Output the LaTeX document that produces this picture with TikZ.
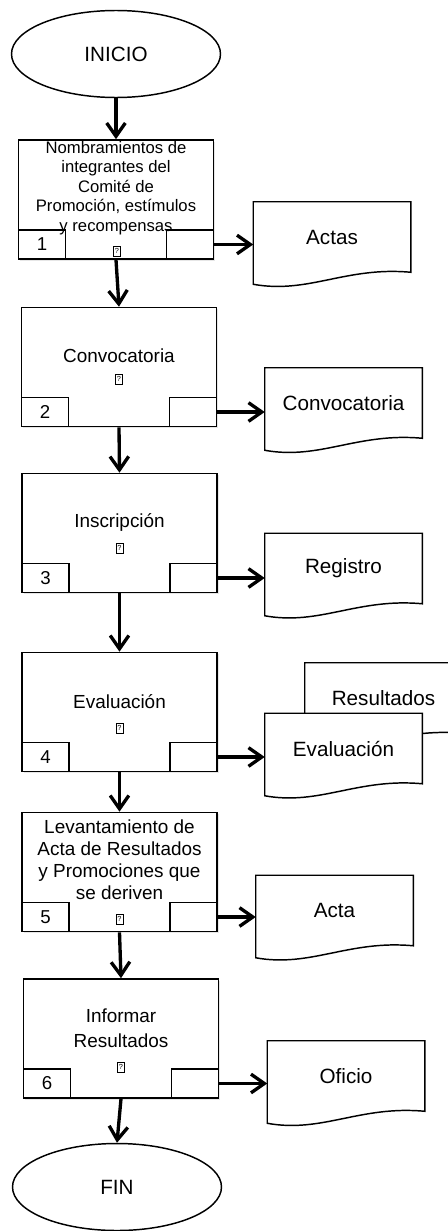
\documentclass[tikz,border=0pt]{standalone}
\usepackage{fontspec}
\setmainfont{Liberation Sans}
\usetikzlibrary{arrows.meta, shapes.geometric, calc, shadows}

% document symbol with wavy bottom, drawn round a named node
\newcommand{\docoutline}[1]{%
  \filldraw[docline] (#1.south east) -- (#1.north east) -- (#1.north west)
    -- ($(#1.south west)+(0,12)$)
    .. controls ($(#1.south west)+(55,22)$) and ($(#1.south east)+(-65,-6)$) .. (#1.south east)
    -- cycle;
}

\begin{document}
\begin{tikzpicture}[x=0.75pt, y=-0.75pt,
  termnode/.style={ellipse, draw, line width=1.1pt, inner sep=0pt,
    minimum width=156.75pt, minimum height=65.25pt, font=\fontsize{15.5}{18}\selectfont},
  actbox/.style={rectangle, draw, line width=1.2pt, fill=white, inner sep=0pt,
    minimum width=146.25pt, minimum height=89.25pt,
    drop shadow={opacity=0.2, shadow xshift=1.2pt, shadow yshift=-1.2pt}},
  numbox/.style={rectangle, draw, line width=1.2pt, fill=white, inner sep=0pt,
    minimum width=35.25pt, minimum height=21.75pt, font=\fontsize{14}{16}\selectfont},
  boxtext/.style={align=center, inner sep=0pt, font=\fontsize{14.2}{16.5}\selectfont},
  glyphbox/.style={draw, line width=0.4pt, inner sep=0.4pt, minimum width=5pt,
    minimum height=7.5pt, font=\fontsize{5.5}{6}\selectfont},
  docnode/.style={rectangle, inner sep=0pt, minimum width=117.75pt,
    minimum height=52.5pt, font=\fontsize{15.5}{18}\selectfont},
  docline/.style={line width=1.1pt, fill=white},
  flowarrow/.style={line width=2.5pt, -{Straight Barb[length=10pt, width=14pt]}}]

  \clip (0,0) rectangle (448,1231);

  % --- Start ---
  \node[termnode] (ini) at (116,54) {INICIO};

  % --- Step 1 ---
  \node[actbox] (a1) at (116,199.5) {};
  \node[numbox, anchor=south west] (n1) at (a1.south west) {1};
  \node[numbox, anchor=south east] (r1) at (a1.south east) {};
  \node[boxtext, font=\fontsize{12.5}{14.6}\selectfont] (t1) at (116,188)
    {Nombramientos de\\integrantes del\\Comité de\\Promoción, estímulos\\y recompensas};
  \node[glyphbox] (g1) at (117,251) {?};

  % --- Step 2 ---
  \node[actbox] (a2) at (119,367) {};
  \node[numbox, anchor=south west] (n2) at (a2.south west) {2};
  \node[numbox, anchor=south east] (r2) at (a2.south east) {};
  \node[boxtext] (t2) at (119,356) {Convocatoria};
  \node[glyphbox] (g2) at (119,379) {?};

  % --- Step 3 ---
  \node[actbox] (a3) at (119.5,533) {};
  \node[numbox, anchor=south west] (n3) at (a3.south west) {3};
  \node[numbox, anchor=south east] (r3) at (a3.south east) {};
  \node[boxtext] (t3) at (119.5,522) {Inscripción};
  \node[glyphbox] (g3) at (119.5,548) {?};

  % --- Step 4 ---
  \node[actbox] (a4) at (119.5,712) {};
  \node[numbox, anchor=south west] (n4) at (a4.south west) {4};
  \node[numbox, anchor=south east] (r4) at (a4.south east) {};
  \node[boxtext] (t4) at (119.5,702) {Evaluación};
  \node[glyphbox] (g4) at (119.5,728) {?};

  % --- Step 5 ---
  \node[actbox] (a5) at (119.5,872) {};
  \node[numbox, anchor=south west] (n5) at (a5.south west) {5};
  \node[numbox, anchor=south east] (r5) at (a5.south east) {};
  \node[boxtext, font=\fontsize{14.2}{16.5}\selectfont] (t5) at (119.5,860)
    {Levantamiento de\\Acta de Resultados\\y Promociones que\\se deriven};
  \node[glyphbox] (g5) at (119.5,919) {?};

  % --- Step 6 ---
  \node[actbox] (a6) at (121,1038.5) {};
  \node[numbox, anchor=south west] (n6) at (a6.south west) {6};
  \node[numbox, anchor=south east] (r6) at (a6.south east) {};
  \node[boxtext, font=\fontsize{14.2}{18.75}\selectfont] (t6) at (121,1028.5)
    {Informar\\Resultados};
  \node[glyphbox] (g6) at (121,1067) {?};

  % --- End ---
  \node[termnode] (fin) at (117,1187) {FIN};

  % --- Documents ---
  \node[docnode] (d1) at (332,237) {};
  \docoutline{d1}
  \node[docnode] at (d1) {Actas};

  \node[docnode] (d2) at (343.5,403) {};
  \docoutline{d2}
  \node[docnode] at (d2) {Convocatoria};

  \node[docnode] (d3) at (343.5,568.5) {};
  \docoutline{d3}
  \node[docnode] at (d3) {Registro};

  \node[docnode] (d4b) at (383.5,698) {};
  \docoutline{d4b}
  \node[docnode] at (d4b) {Resultados};
  \node[docnode] (d4) at (343.5,748.5) {};
  \docoutline{d4}
  \node[docnode] at (d4) {Evaluación};

  \node[docnode] (d5) at (334.5,910.5) {};
  \docoutline{d5}
  \node[docnode] at (d5) {Acta};

  \node[docnode] (d6) at (346,1076) {};
  \docoutline{d6}
  \node[docnode] at (d6) {Oficio};

  % --- Flow ---
  \draw[flowarrow] (ini.south) -- (a1.north);
  \draw[flowarrow] (a1.south) -- (a2.north);
  \draw[flowarrow] (a2.south) -- (a3.north);
  \draw[flowarrow] (a3.south) -- (a4.north);
  \draw[flowarrow] (a4.south) -- (a5.north);
  \draw[flowarrow] (a5.south) -- (a6.north);
  \draw[flowarrow] (a6.south) -- (fin.north);

  % --- Outputs ---
  \draw[flowarrow] (r1.east) -- (r1.east -| d1.west);
  \draw[flowarrow] (r2.east) -- (r2.east -| d2.west);
  \draw[flowarrow] (r3.east) -- (r3.east -| d3.west);
  \draw[flowarrow] (r4.east) -- (r4.east -| d4.west);
  \draw[flowarrow] (r5.east) -- (r5.east -| d5.west);
  \draw[flowarrow] (r6.east) -- (r6.east -| d6.west);

\end{tikzpicture}
\end{document}
